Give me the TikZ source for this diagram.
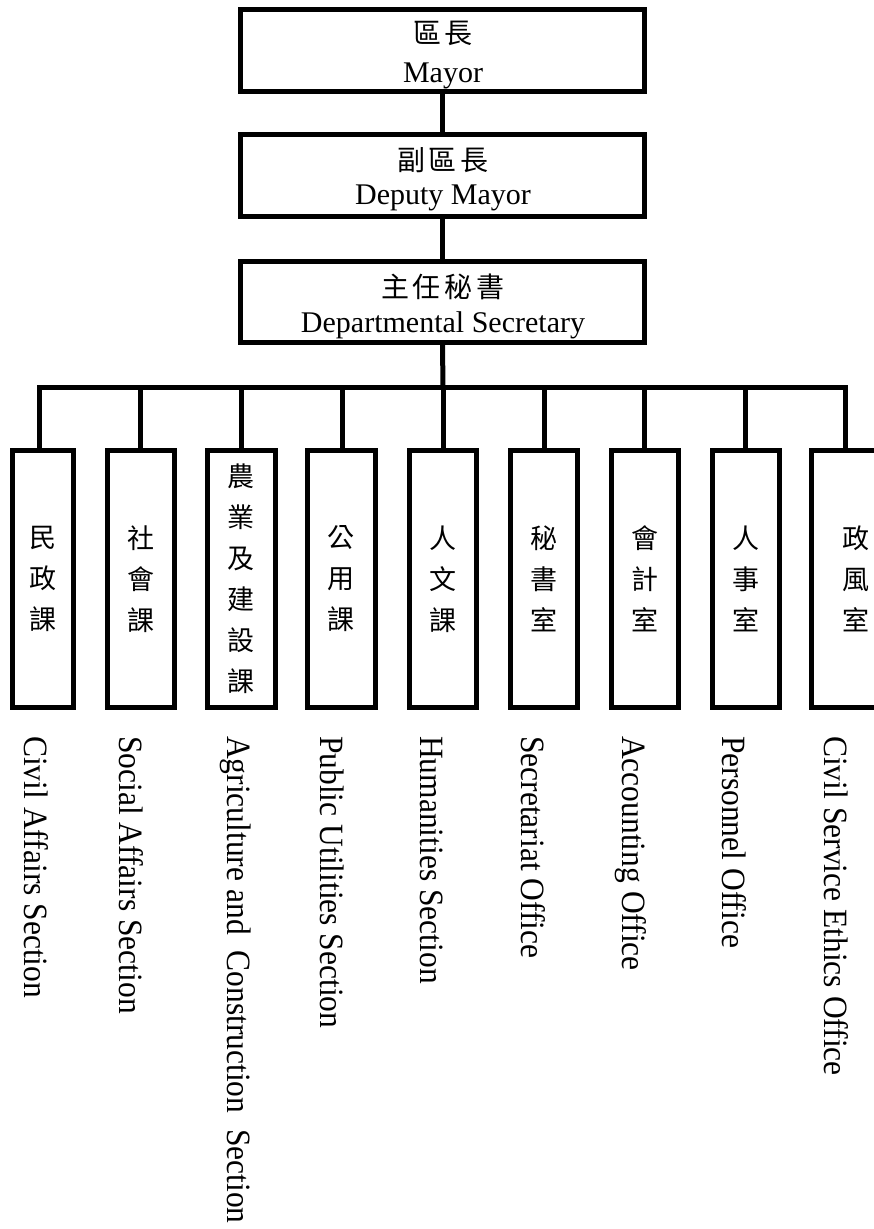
\documentclass[tikz,border=0pt]{standalone}
\usepackage{graphicx}
\usepackage{fontspec}
\setmainfont{Liberation Serif}
\newfontfamily\cjk{Noto Sans CJK TC}
\newcommand\vlab[1]{\scalebox{1}[1.08]{#1}}
\begin{document}
\begin{tikzpicture}[x=1pt,y=-1pt,
  box/.style={draw,line width=5pt,line join=miter,inner sep=0pt},
  conn/.style={line width=5pt,line join=miter},
  zh/.style={font=\cjk\fontsize{28}{28}\selectfont,inner sep=0pt,anchor=base},
  en/.style={font=\fontsize{30}{30}\selectfont,inner sep=0pt,anchor=base},
  vzh/.style={font=\cjk\fontsize{27}{41}\selectfont,align=center},
  ven/.style={font=\fontsize{31.5}{31.5}\selectfont,inner sep=0pt,anchor=base west,rotate=-90}]
\useasboundingbox (0,0) rectangle (874,1229);

% top boxes
\node[box,minimum width=404pt,minimum height=82pt] (mayor) at (442.5,50) {};
\node[box,minimum width=404pt,minimum height=82pt] (deputy) at (442.5,175) {};
\node[box,minimum width=404pt,minimum height=81.5pt] (secr) at (442.5,301.75) {};

\node[zh] (mayor-zh) at (443,43.6) {區\kern4pt 長};
\node[en] (mayor-en) at (443,82) {Mayor};
\node[zh] (deputy-zh) at (443,170.6) {副\kern4pt 區\kern4pt 長};
\node[en] (deputy-en) at (443,204) {Deputy Mayor};
\node[zh] (secr-zh) at (443,297.6) {主\kern4pt 任\kern4pt 秘\kern4pt 書};
\node[en] (secr-en) at (443,332) {Departmental Secretary};

% lower boxes
\node[box,vzh,minimum width=61pt,minimum height=257pt] (b1) at (42.6,579) {民\\政\\課};
\node[box,vzh,minimum width=67pt,minimum height=257pt] (b2) at (140.5,579) {社\\會\\課};
\node[box,vzh,minimum width=68pt,minimum height=257pt] (b3) at (241,579) {農\\業\\及\\建\\設\\課};
\node[box,vzh,minimum width=67.5pt,minimum height=257pt] (b4) at (341.25,579) {公\\用\\課};
\node[box,vzh,minimum width=67pt,minimum height=257pt] (b5) at (442.5,579) {人\\文\\課};
\node[box,vzh,minimum width=67pt,minimum height=257pt] (b6) at (543.5,579) {秘\\書\\室};
\node[box,vzh,minimum width=66.5pt,minimum height=257pt] (b7) at (645,579) {會\\計\\室};
\node[box,vzh,minimum width=67pt,minimum height=257pt] (b8) at (745.5,579) {人\\事\\室};
\node[box,vzh,minimum width=89pt,minimum height=257pt] (b9) at (856,579) {政\\風\\室};

% bus coordinates
\coordinate (s1) at (39,387);
\coordinate (s2) at (140,387);
\coordinate (s3) at (241,387);
\coordinate (s4) at (342,387);
\coordinate (s5) at (443,387);
\coordinate (s6) at (544,387);
\coordinate (s7) at (644,387);
\coordinate (s8) at (745,387);
\coordinate (s9) at (845,387);

% connectors
\draw[conn] (mayor.south) -- (deputy.north);
\draw[conn] (deputy.south) -- (secr.north);
\draw[conn] (secr.south) -- (s5);
\draw[conn] (s1 |- b1.north) -- (s1) -- (s9) -- (s9 |- b9.north);
\foreach \i in {2,...,8} {\draw[conn] (s\i) -- (s\i |- b\i.north);}

% English labels
\node[ven] (l1) at (24,736) {\vlab{Civil Affairs Section}};
\node[ven] (l2) at (119,736) {\vlab{Social Affairs Section}};
\node[ven] (l3) at (227,736) {\vlab{Agriculture and\ \ Construction\ \ Section}};
\node[ven] (l4) at (320,736) {\vlab{Public Utilities Section}};
\node[ven] (l5) at (420,736) {\vlab{Humanities Section}};
\node[ven] (l6) at (521,736) {\vlab{Secretariat Office}};
\node[ven] (l7) at (622,736) {\vlab{Accounting Office}};
\node[ven] (l8) at (722,736) {\vlab{Personnel Office}};
\node[ven] (l9) at (824,736) {\vlab{Civil Service Ethics Office}};
\end{tikzpicture}
\end{document}
